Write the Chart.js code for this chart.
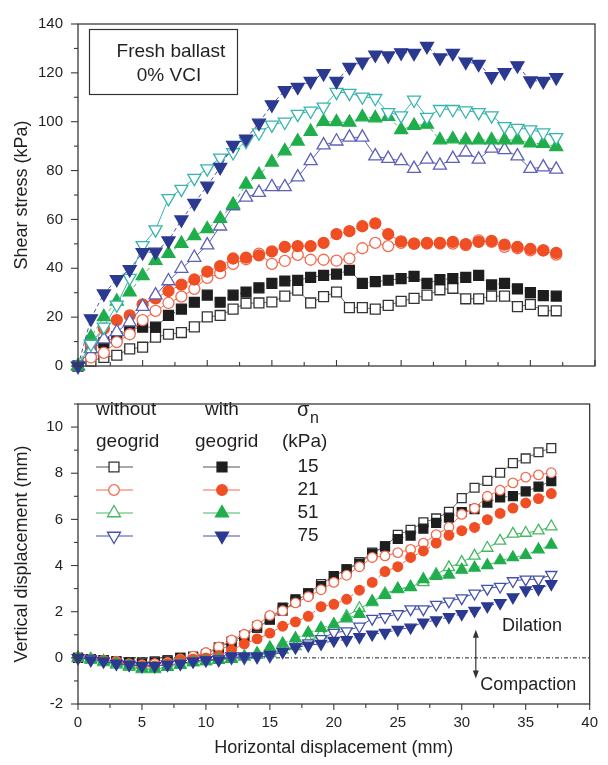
<!DOCTYPE html>
<html><head><meta charset="utf-8">
<script src="https://cdn.jsdelivr.net/npm/chart.js@4.4.1/dist/chart.umd.min.js"></script>
<style>
html,body{margin:0;padding:0;background:#fff;}
#wrap{position:relative;width:608px;height:765px;overflow:hidden;background:#fff;}
canvas{position:absolute;left:0;}
#c1{top:0;} #c2{top:380px;}
</style></head><body>
<div id="wrap"><canvas id="c1" width="608" height="390"></canvas><canvas id="c2" width="608" height="385"></canvas></div>
<script>
// ---------- data ----------
const disp = [0,1,2,3,4,5,6,7,8,9,10,11,12,13,14,15,16,17,18,19,20,21,22,23,24,25,26,27,28,29,30,31,32,33,34,35,36,37];

// Shear stress (kPa)
const topOpenSq   = [0,2,3.5,4.4,7,7.7,11.8,13,13.7,16,20.1,20.7,23.3,25.7,25.8,26.2,28.6,31,25.8,28.4,30.3,23.9,23.9,23.3,24.8,26.5,27.7,29,31.2,31.8,27.5,27.5,28.6,28.6,24.3,25.2,22.6,22.6];
const topFillSq   = [0,7.3,9.5,12,15,15.9,15.9,20.7,23.3,26.1,29,26.1,29,30.3,32,33.8,34.8,35.1,36.3,37.1,37.6,39.2,33.8,34.5,35.1,35.8,36.7,33.8,35.4,35.8,36.3,37.1,33.2,33.8,31.6,30,28.8,28.6];
const topOpenCirc = [0,3.5,5.4,9.8,13,18.8,22.6,25.8,28.4,31.6,36.1,38,41.8,43.7,46,41.8,43,45.5,43.5,43.5,43.1,44,48.2,50.4,49.1,50.4,50.1,50.1,50.1,50.1,49.5,51.4,50.8,48.8,48.2,47.3,47.3,45.6];
const topFillCirc = [0,8,15.3,18.8,20.7,25.2,27.7,30.7,33.3,35.4,38.6,40.9,44,44.4,45.3,46.9,48.8,49.1,49.1,50.4,54,55.2,57.2,58.4,54,51,50.1,50.4,50.4,50.8,49.9,50.8,51.2,49.7,48.8,47.9,47.3,46.3];
const topOpenUp   = [0,7,11,14,18,24.3,29,34.8,39.9,44.4,49.5,57.2,65.5,69,71,73.3,73.3,77.3,84,90.4,92,93.6,93.6,85.9,84.9,84,80.8,84.6,82.1,84.9,87.5,84.6,89.1,88.5,85.9,80.8,81.4,80.5];
const topFillUp   = [0,11.8,20.1,26.5,30.3,36.9,43.1,46,50.1,53.3,56.1,60.3,66.1,74.4,78.3,83.4,88,92,96,100,99.9,99.7,101.9,101.5,102.1,96.7,98.4,98.9,92.5,92.9,92.5,92.5,92.5,92.5,92.5,91.2,91,89.7];
const topOpenDown = [0,9,16,25,36,49.4,55.8,68.6,72.4,76.9,80.8,85.2,87.4,92,95.5,98.7,99.9,103.1,104.4,106.1,112.1,111.7,110.2,109.6,103.8,102.5,108.9,101.9,105.1,105.1,104.5,103.8,102.5,98.1,97.4,96.8,95.5,93.6];
const topFillDown = [0,19.4,29.6,35.5,39.5,46.5,46.7,51.3,59.9,66.7,73.7,81.4,90.4,93,99.5,107,112.8,114.2,116.6,119.8,116.6,122.3,124.5,127.4,127,128.3,128.1,130.9,126.2,128.1,124.5,123.6,118.5,120.2,123,116.8,116.6,118.1];

// Vertical displacement (mm)
const botOpenSq   = [0,-0.05,-0.1,-0.15,-0.2,-0.2,-0.15,-0.1,0,0.05,0.15,0.45,0.7,0.95,1.3,1.65,2.05,2.45,2.8,3.2,3.54,3.84,4.15,4.56,4.83,5.33,5.55,5.87,6.04,6.33,6.92,7.37,7.67,8.02,8.44,8.64,8.91,9.09];
const botFillSq   = [0,-0.05,-0.1,-0.15,-0.2,-0.25,-0.2,-0.15,0,0,0.05,0.29,0.61,0.93,1.35,1.67,2.18,2.54,2.79,3.11,3.54,3.83,4.08,4.52,4.83,5.15,5.3,5.6,5.85,6.08,6.32,6.44,6.73,6.95,7.01,7.21,7.42,7.66];
const botOpenCirc = [0,-0.05,-0.1,-0.15,-0.25,-0.3,-0.25,-0.2,-0.05,0.07,0.23,0.47,0.78,1.02,1.43,1.84,2.04,2.38,2.65,2.95,3.27,3.58,3.95,4.35,4.42,4.56,4.7,4.97,5.34,5.66,6.22,6.48,7.0,7.27,7.58,7.83,7.93,8.02];
const botFillCirc = [0,-0.05,-0.1,-0.2,-0.3,-0.35,-0.35,-0.25,-0.1,-0.05,0,0.1,0.34,0.6,0.82,1.07,1.37,1.56,1.8,2.22,2.32,2.54,2.93,3.27,3.74,3.95,4.35,4.63,4.97,5.31,5.51,5.65,5.99,6.26,6.49,6.71,6.9,7.12];
const botOpenUp   = [0,-0.1,-0.2,-0.3,-0.4,-0.5,-0.5,-0.4,-0.3,-0.2,-0.15,-0.05,0,0.05,0.12,0.2,0.35,0.5,0.75,1.0,1.35,1.8,2.15,2.4,2.79,2.97,3.08,3.27,3.62,3.92,4.15,4.42,4.76,5.07,5.37,5.41,5.51,5.69];
const botFillUp   = [0,-0.05,-0.15,-0.25,-0.35,-0.45,-0.45,-0.4,-0.3,-0.2,-0.15,-0.1,-0.05,0.05,0.2,0.45,0.62,0.85,1.08,1.29,1.45,1.7,1.9,2.45,2.72,2.99,3.06,3.4,3.54,3.6,3.81,3.9,4.01,4.22,4.35,4.45,4.69,4.9];
const botOpenDown = [0,-0.05,-0.15,-0.25,-0.3,-0.35,-0.35,-0.3,-0.25,-0.15,-0.1,-0.05,0,0,0.03,0.07,0.27,0.48,0.64,0.82,1.09,1.16,1.36,1.7,1.77,1.9,2.11,2.11,2.31,2.45,2.59,2.79,3.0,3.09,3.33,3.4,3.4,3.6];
const botFillDown = [0,-0.1,-0.15,-0.25,-0.3,-0.35,-0.35,-0.3,-0.25,-0.15,-0.1,-0.1,0.07,0.07,0.07,0.14,0.27,0.45,0.54,0.61,0.75,0.78,0.91,1.02,1.09,1.22,1.32,1.54,1.63,1.77,1.9,2.04,2.24,2.38,2.63,2.93,2.99,3.2];

const zeroLineX = [0,40];
const zeroLineY = [0,0];

const shearTicks = [0,20,40,60,80,100,120,140];
const vertTicks  = [-2,0,2,4,6,8,10];
const horizTicks = [0,5,10,15,20,25,30,35,40];
const sigmaLabels = ['15','21','51','75'];

// ---------- styling ----------
const FONT = "'Liberation Sans', Arial, Helvetica, sans-serif";
const INK = '#231f20';
const FRAME = '#3a3a3a';
Chart.defaults.font.family = FONT;
Chart.defaults.color = INK;

const C = {
  blk:'#1e1e1e', blkLine:'#6a6a6a',
  red:'#f04e23', redOpen:'#f26a4e',
  grn:'#1fae4b', grnOpen:'#45b862',
  navy:'#2b3990', navyOpen:'#4450aa',
  cyan:'#37b4ae', purple:'#5c60b6'
};

const pts = ys => disp.map((d,i)=>({x:d, y:ys[i]}));

function ds(data, style, rot, stroke, fill, line, dashed, r){
  return {
    data: pts(data), showLine:true, clip:false,
    borderColor: line, borderWidth: 1, borderDash: dashed ? [4,3] : [],
    pointStyle: style, pointRotation: rot, pointRadius: r, pointHoverRadius: r,
    pointBorderColor: stroke, pointBackgroundColor: fill, pointBorderWidth: 1.3,
    tension: 0
  };
}

function line(ctx,x1,y1,x2,y2){ctx.beginPath();ctx.moveTo(x1,y1);ctx.lineTo(x2,y2);ctx.stroke();}

function mark(ctx, kind, x, y, r, stroke, fill){
  ctx.beginPath();
  if (kind==='rect'){ const s=r*Math.SQRT1_2; ctx.rect(x-s,y-s,2*s,2*s); }
  else if (kind==='circle'){ ctx.arc(x,y,r,0,Math.PI*2); }
  else { const d = kind==='up'?1:-1; const a=r*0.866;
    ctx.moveTo(x, y-d*r); ctx.lineTo(x+a, y+d*r*0.5); ctx.lineTo(x-a, y+d*r*0.5); ctx.closePath(); }
  ctx.fillStyle=fill; ctx.fill(); ctx.lineWidth=1.3; ctx.strokeStyle=stroke; ctx.stroke();
}

// ---------- top chart ----------
const topPlugin = {
  id:'topDecor',
  afterDraw(chart){
    const {ctx, chartArea:a, scales:{x,y}} = chart;
    ctx.save();
    ctx.strokeStyle=FRAME; ctx.lineWidth=1.3;
    ctx.strokeRect(a.left, a.top, a.right-a.left, a.bottom-a.top);
    ctx.lineWidth=1.1;
    for (let v=0; v<=140; v+=10){ const py=y.getPixelForValue(v); const L=(v%20===0)?7:4; line(ctx,a.left-L,py,a.left,py); }
    for (let v=0; v<=40; v+=2.5){ const px=x.getPixelForValue(v); const L=(v%5===0)?6:4; line(ctx,px,a.bottom,px,a.bottom-L); }
    // label box
    ctx.lineWidth=1.2; ctx.strokeStyle='#333';
    ctx.strokeRect(89.5,29.5,148,65);
    ctx.fillStyle=INK; ctx.font="19px "+FONT; ctx.textAlign='center'; ctx.textBaseline='middle';
    ctx.fillText('Fresh ballast',171,52);
    ctx.fillText('0% VCI',169,76);
    ctx.restore();
  }
};

new Chart(document.getElementById('c1'), {
  type:'line',
  data:{ datasets:[
    ds(topFillDown,'triangle',180,C.navy,C.navy,C.navyOpen,true,7.5),
    ds(topOpenDown,'triangle',180,C.cyan,'#fff',C.cyan,false,7.5),
    ds(topFillUp,'triangle',0,C.grn,C.grn,C.grnOpen,true,7.5),
    ds(topOpenUp,'triangle',0,C.purple,'#fff',C.purple,false,7.5),
    ds(topFillCirc,'circle',0,C.red,C.red,C.redOpen,true,5.5),
    ds(topOpenCirc,'circle',0,C.redOpen,'#fff',C.redOpen,false,5.5),
    ds(topFillSq,'rect',0,C.blk,C.blk,C.blkLine,true,7),
    ds(topOpenSq,'rect',0,'#333','#fff',C.blkLine,false,7)
  ]},
  options:{
    responsive:false, animation:false, devicePixelRatio:1,
    layout:{padding:{top:19,right:13,bottom:5,left:0}},
    plugins:{legend:{display:false}, tooltip:{enabled:false}},
    scales:{
      x:{type:'linear', min:0, max:40, display:false},
      y:{type:'linear', min:0, max:140,
         afterBuildTicks:s=>{ s.ticks = shearTicks.map(v=>({value:v})); },
         afterFit:s=>{ s.width=78; },
         grid:{display:false, drawTicks:false},
         border:{display:false},
         ticks:{padding:15, font:{size:15}, color:INK},
         title:{display:true, text:'Shear stress (kPa)', font:{size:18}, color:INK, padding:{top:11,bottom:0}}
      }
    }
  },
  plugins:[topPlugin]
});

// ---------- bottom chart ----------
const OFF = 380;
const botPlugin = {
  id:'botDecor',
  afterDraw(chart){
    const {ctx, chartArea:a, scales:{x,y}} = chart;
    ctx.save();
    ctx.strokeStyle=FRAME; ctx.lineWidth=1.3;
    ctx.strokeRect(a.left, a.top, a.right-a.left, a.bottom-a.top);
    ctx.lineWidth=1.1;
    for (let v=-2; v<=11; v+=1){ const py=y.getPixelForValue(v); const L=(v%2===0)?7:4; line(ctx,a.left-L,py,a.left,py); }
    for (let v=0; v<=40; v+=2.5){ const px=x.getPixelForValue(v); const L=(v%5===0)?6:4; line(ctx,px,a.bottom,px,a.bottom+L); }

    // arrow
    const ax = x.getPixelForValue(31.1), ay1 = y.getPixelForValue(1.22), ay2 = y.getPixelForValue(-0.9);
    ctx.strokeStyle='#333'; ctx.fillStyle='#333'; ctx.lineWidth=1.2;
    line(ctx,ax,ay1+4,ax,ay2-4);
    ctx.beginPath(); ctx.moveTo(ax,ay1); ctx.lineTo(ax-3,ay1+8); ctx.lineTo(ax+3,ay1+8); ctx.closePath(); ctx.fill();
    ctx.beginPath(); ctx.moveTo(ax,ay2); ctx.lineTo(ax-3,ay2-8); ctx.lineTo(ax+3,ay2-8); ctx.closePath(); ctx.fill();

    ctx.fillStyle=INK; ctx.textAlign='center'; ctx.textBaseline='middle';
    ctx.font="18px "+FONT;
    ctx.fillText('Dilation', x.getPixelForValue(35.5), y.getPixelForValue(1.38));
    ctx.fillText('Compaction', x.getPixelForValue(35.2), y.getPixelForValue(-1.18));

    // legend
    ctx.font="19px "+FONT; ctx.textAlign='left';
    ctx.fillText('without', 96, 410-OFF);
    ctx.fillText('with', 205, 410-OFF);
    ctx.fillText('geogrid', 96, 442-OFF);
    ctx.fillText('geogrid', 195, 442-OFF);
    ctx.fillText('(kPa)', 282, 442-OFF);
    ctx.font="20px "+FONT; ctx.fillText('\u03C3', 297, 410-OFF);
    ctx.font="16px "+FONT; ctx.fillText('n', 310, 419-OFF);
    const rows = [
      {y:467, lc:'#555', o:['rect','#333','#fff',7], f:['rect',C.blk,C.blk,7]},
      {y:490, lc:C.redOpen, o:['circle',C.redOpen,'#fff',5.3], f:['circle',C.red,C.red,5.3]},
      {y:513, lc:C.grnOpen, o:['up',C.grnOpen,'#fff',7.5], f:['up',C.grn,C.grn,7.5]},
      {y:536, lc:C.navyOpen, o:['down',C.navyOpen,'#fff',7.5], f:['down',C.navy,C.navy,7.5]}
    ];
    ctx.font="19px "+FONT; ctx.textAlign='center';
    rows.forEach((r,i)=>{
      const yy = r.y-OFF;
      ctx.strokeStyle=r.lc; ctx.lineWidth=1.2;
      line(ctx,96,yy,133,yy); line(ctx,203,yy,240,yy);
      mark(ctx,r.o[0],114,yy,r.o[3],r.o[1],r.o[2]);
      mark(ctx,r.f[0],222,yy,r.f[3],r.f[1],r.f[2]);
      ctx.fillStyle=INK; ctx.fillText(sigmaLabels[i], 308, yy);
    });
    ctx.restore();
  }
};

const zeroDs = {
  data: zeroLineX.map((v,i)=>({x:v,y:zeroLineY[i]})), showLine:true, clip:false,
  borderColor:'#222', borderWidth:1, borderDash:[4,2,1,2], pointRadius:0, order:100
};

new Chart(document.getElementById('c2'), {
  type:'line',
  data:{ datasets:[
    zeroDs,
    ds(botFillDown,'triangle',180,C.navy,C.navy,C.navyOpen,true,6.5),
    ds(botOpenDown,'triangle',180,C.navyOpen,'#fff',C.navyOpen,false,6.5),
    ds(botFillUp,'triangle',0,C.grn,C.grn,C.grnOpen,true,6.5),
    ds(botOpenUp,'triangle',0,C.grnOpen,'#fff',C.grnOpen,false,6.5),
    ds(botFillCirc,'circle',0,C.red,C.red,C.redOpen,true,4.8),
    ds(botOpenCirc,'circle',0,C.redOpen,'#fff',C.redOpen,false,4.8),
    ds(botFillSq,'rect',0,C.blk,C.blk,C.blkLine,true,6.3),
    ds(botOpenSq,'rect',0,'#333','#fff',C.blkLine,false,6.3)
  ]},
  options:{
    responsive:false, animation:false, devicePixelRatio:1,
    layout:{padding:{top:5,right:13,bottom:0,left:0}},
    plugins:{legend:{display:false}, tooltip:{enabled:false}},
    scales:{
      x:{type:'linear', min:0, max:40, position:'bottom',
         afterBuildTicks:s=>{ s.ticks = horizTicks.map(v=>({value:v})); },
         afterFit:s=>{ s.height=61; },
         grid:{display:false, drawTicks:false},
         border:{display:false},
         ticks:{padding:10, font:{size:15}, color:INK, autoSkip:false, maxRotation:0},
         title:{display:true, text:'Horizontal displacement (mm)', font:{size:18}, color:INK, padding:{top:0,bottom:6}}
      },
      y:{type:'linear', min:-2, max:11,
         afterBuildTicks:s=>{ s.ticks = vertTicks.map(v=>({value:v})); },
         afterFit:s=>{ s.width=78; },
         grid:{display:false, drawTicks:false},
         border:{display:false},
         ticks:{padding:15, font:{size:15}, color:INK},
         title:{display:true, text:'Vertical displacement (mm)', font:{size:18}, color:INK, padding:{top:11,bottom:0}}
      }
    }
  },
  plugins:[botPlugin]
});
</script>
</body></html>
